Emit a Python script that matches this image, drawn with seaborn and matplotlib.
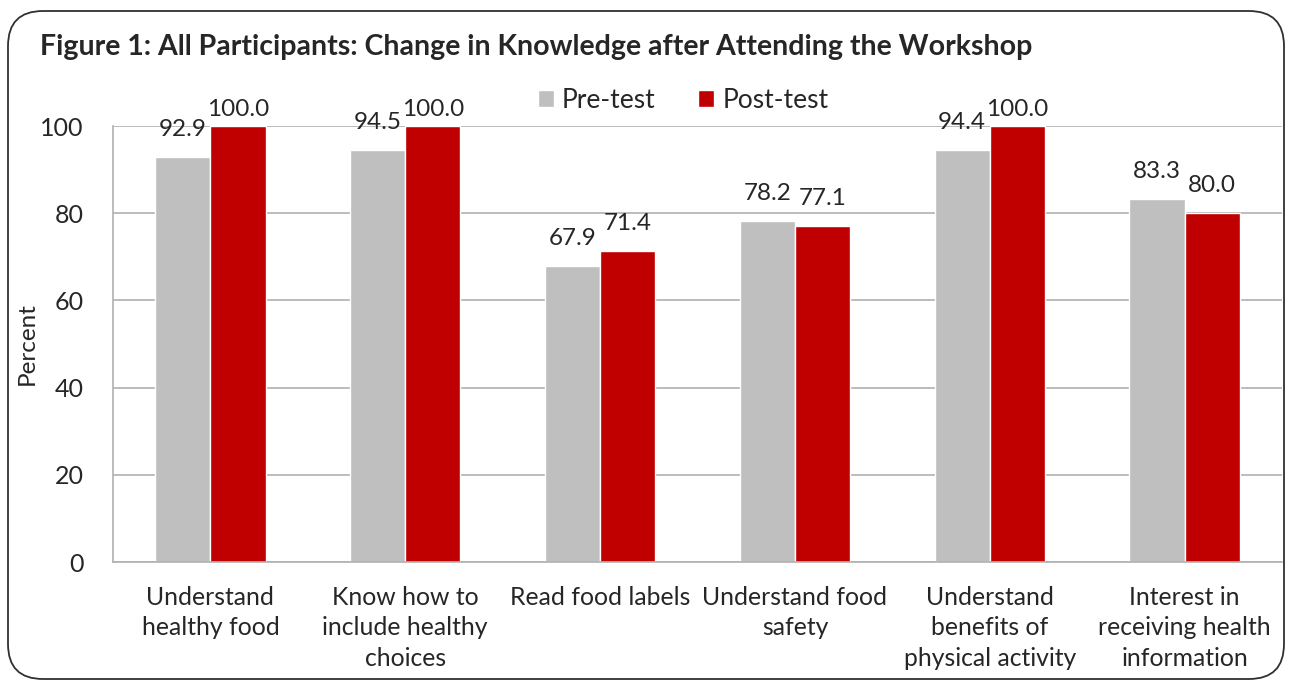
import pandas as pd
import matplotlib.pyplot as plt
import seaborn as sns
from matplotlib.patches import FancyBboxPatch

# Data
items = ["Understand\nhealthy food", "Know how to\ninclude healthy\nchoices", "Read food labels",
         "Understand food\nsafety", "Understand\nbenefits of\nphysical activity",
         "Interest in\nreceiving health\ninformation"]
pre_test = [92.9, 94.5, 67.9, 78.2, 94.4, 83.3]
post_test = [100.0, 100.0, 71.4, 77.1, 100.0, 80.0]
series = ["Pre-test", "Post-test"]
y_ticks = [0, 20, 40, 60, 80, 100]

df = pd.DataFrame({
    "item": items * 2,
    "value": pre_test + post_test,
    "test": [series[0]] * len(items) + [series[1]] * len(items),
})

sns.set_style("white")
plt.rcParams["font.family"] = ["Lato", "DejaVu Sans"]

fig = plt.figure(figsize=(12.91, 6.82), dpi=100)
ax = fig.add_axes([113 / 1291, 120 / 682, (1282 - 113) / 1291, (562 - 126) / 682])

sns.barplot(data=df, x="item", y="value", hue="test", palette=["#BFBFBF", "#C00000"],
            width=0.566, gap=0, saturation=1, ax=ax)

# value labels
for cont in ax.containers:
    for bar in cont:
        v = bar.get_height()
        off = 6 if v >= 99.5 else 17
        ax.annotate(f"{v:.1f}", (bar.get_x() + bar.get_width() / 2, v), xytext=(0, off),
                    textcoords="offset pixels", ha="center", va="bottom", fontsize=17.5)

ax.set_ylim(0, 100)
ax.set_yticks(y_ticks)
ax.yaxis.grid(True, color="#B0B0B0", linewidth=1.2)
ax.set_axisbelow(True)
for s in ["top", "right"]:
    ax.spines[s].set_visible(False)
ax.spines["left"].set_color("#B0B0B0")
ax.spines["bottom"].set_color("#B0B0B0")
ax.spines["left"].set_linewidth(1.2)
ax.spines["bottom"].set_linewidth(1.2)
ax.tick_params(axis="y", length=7, color="#B0B0B0", width=1.2, pad=14, labelsize=18)
ax.tick_params(axis="x", length=0, pad=17, labelsize=17.8)
for lbl in ax.get_xticklabels():
    lbl.set_linespacing(1.4)
ax.set_xlabel("")
ax.set_ylabel("Percent", fontsize=17.5)
ax.yaxis.set_label_coords(-75 / 1169, 0.5)

handles, labels = ax.get_legend_handles_labels()
ax.get_legend().remove()
fig.legend(handles, labels, loc="center", bbox_to_anchor=(683 / 1291, 1 - 100 / 682), ncol=2,
           frameon=False, fontsize=19, handlelength=0.62, handleheight=0.62,
           handletextpad=0.3, columnspacing=1.6)

fig.text(40 / 1291, 1 - 47 / 682, "Figure 1: All Participants: Change in Knowledge after Attending the Workshop",
         fontsize=20.5, fontweight="bold", ha="left", va="center")

# rounded frame around the chart
frame = FancyBboxPatch((0.08, 0.03), 12.76, 6.68, boxstyle="round,pad=0,rounding_size=0.35",
                       transform=fig.dpi_scale_trans, fill=False, edgecolor="#303030",
                       linewidth=1.3)
fig.patches.append(frame)

fig.savefig("out.png", dpi=100)
